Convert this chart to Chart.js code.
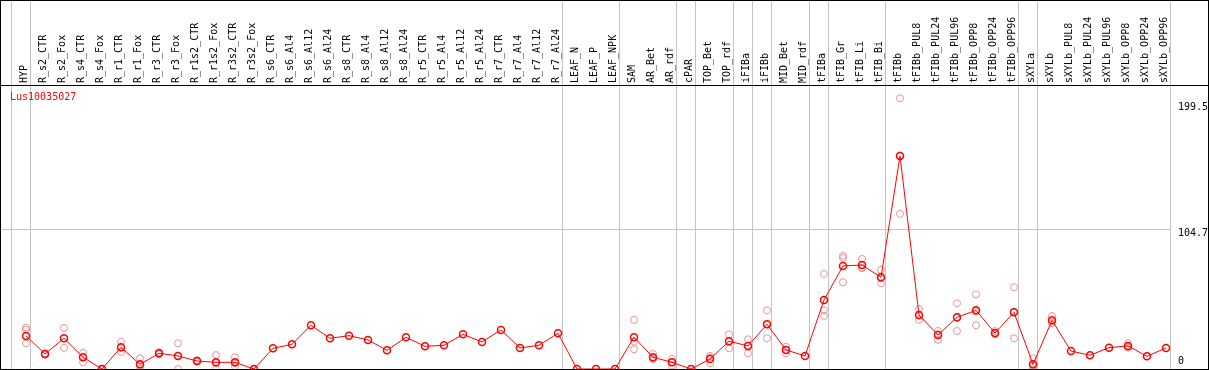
<!DOCTYPE html>
<html>
<head>
<meta charset="utf-8">
<title>Lus10035027</title>
<script src="https://cdn.jsdelivr.net/npm/chart.js@4.4.1/dist/chart.umd.min.js"></script>
<style>
  html, body { margin: 0; padding: 0; background: #fff; overflow: hidden; }
  #wrap { width: 1209px; height: 370px; }
</style>
</head>
<body>
<div id="wrap"><canvas id="chart" width="1209" height="370"></canvas></div>
<script>
'use strict';

/* ── Data ───────────────────────────────────────────────────────── */
const GENE = 'Lus10035027';

const samples = [
    'HYP',
    'R_s2_CTR', 'R_s2_Fox', 'R_s4_CTR', 'R_s4_Fox', 'R_r1_CTR', 'R_r1_Fox', 'R_r3_CTR', 'R_r3_Fox',
    'R_r1s2_CTR', 'R_r1s2_Fox', 'R_r3s2_CTR', 'R_r3s2_Fox',
    'R_s6_CTR', 'R_s6_Al4', 'R_s6_Al12', 'R_s6_Al24', 'R_s8_CTR', 'R_s8_Al4', 'R_s8_Al12', 'R_s8_Al24',
    'R_r5_CTR', 'R_r5_Al4', 'R_r5_Al12', 'R_r5_Al24', 'R_r7_CTR', 'R_r7_Al4', 'R_r7_Al12', 'R_r7_Al24',
    'LEAF_N', 'LEAF_P', 'LEAF_NPK',
    'SAM', 'AR_Bet', 'AR_rdf',
    'cPAR',
    'TOP_Bet', 'TOP_rdf',
    'iFIBa', 'iFIBb',
    'MID_Bet', 'MID_rdf',
    'tFIBa', 'tFIB_Gr', 'tFIB_Li', 'tFIB_Bi',
    'tFIBb', 'tFIBb_PUL8', 'tFIBb_PUL24', 'tFIBb_PUL96', 'tFIBb_OPP8', 'tFIBb_OPP24', 'tFIBb_OPP96',
    'sXYLa',
    'sXYLb', 'sXYLb_PUL8', 'sXYLb_PUL24', 'sXYLb_PUL96', 'sXYLb_OPP8', 'sXYLb_OPP24', 'sXYLb_OPP96'
];

// mean expression per sample
const means = [
    24.8,
    11.3, 23, 8.8, 0, 16.3, 3.5, 11.8, 9.8,
    6, 5, 5, 0,
    15.5, 18.5, 32.8, 23, 25, 21.8, 14, 23.8,
    17, 17.8, 26, 20.3, 29.3, 15.8, 17.8, 26.8,
    0, 0, 0,
    23.8, 8.8, 5,
    0,
    7.5, 20.8,
    17.3, 33.5,
    14.3, 9.8,
    51.8, 77.3, 78, 68.8,
    159.8, 40.5, 25.5, 38.8, 44, 27, 42.5,
    3.5,
    36.5, 13.5, 10.3, 16, 17.3, 9.5, 15.8
];

// individual replicates (null = none visible apart from the mean)
const repA = [
    31,
    11.8, 30.8, 12.2, 0, 20.3, 8, 12.5, 19.3,
    6.5, 10.5, 8.8, 0,
    null, null, null, null, null, null, null, null,
    null, null, null, null, null, null, null, null,
    null, null, null,
    36.8, 11.3, 7.7,
    null,
    9.8, 26,
    22.3, 44,
    16.7, null,
    71.3, 84.8, 82.5, 74.3,
    203, 45, 28.5, 49.3, 56, 28.5, 61.3,
    8,
    39.8, null, null, null, 19.3, null, null
];
const repB = [
    29.5,
    10.7, 15.8, 5, 0, 12.8, 2.5, 11, 0,
    5.5, 0, 1.8, 0,
    null, null, null, null, null, null, null, null,
    null, null, null, null, null, null, null, null,
    null, null, null,
    20.5, 7.3, 2.5,
    null,
    4.3, 15.5,
    11.8, 23,
    11.8, null,
    44, 83.3, 75.5, 64.3,
    116.3, 36.8, 21.8, 28.5, 32.8, 26, 23,
    0,
    34.3, null, null, null, 16.5, null, null
];
const repC = [
    19.3,
    11.3, 23, 8.8, 0, 16, 0, 11.8, 9.8,
    6, 4.5, 4.5, 0,
    null, null, null, null, null, null, null, null,
    null, null, null, null, null, null, null, null,
    null, null, null,
    14.8, 8, 5,
    null,
    8.5, 21,
    17.5, 33.5,
    14.3, null,
    39.8, 65, 76, 68,
    160, 40, 26, 38.5, 43, 26.5, 43,
    2.5,
    35.5, null, null, null, 16, null, null
];

// index of the last sample in each group (-1 = left edge)
const groupEnds = [-1, 0, 28, 31, 34, 35, 37, 38, 39, 41, 42, 45, 52, 53, 60];

const yTicks = [0, 104.7, 199.5];
const yMax = 213;

/* ── Helpers ────────────────────────────────────────────────────── */
const FONT = "'DejaVu Sans Mono', monospace";
const toPoints = arr => arr.map((v, i) => ({ x: i, y: v })).filter(p => p.y !== null);

// pin a scale's size and drop the label overflow padding chart.js adds
const pinScale = size => s => {
    if (s.isHorizontal()) s.height = size; else s.width = size;
    s.paddingLeft = s.paddingRight = s.paddingTop = s.paddingBottom = 0;
};

/* ── Decorations: group separators, frame, gene name ───────────── */
const framePlugin = {
    id: 'frame',
    beforeDatasetsDraw(chart) {
        const { ctx, chartArea, scales } = chart;
        ctx.save();
        ctx.strokeStyle = '#c4c4c4';
        ctx.lineWidth = 1;
        groupEnds.forEach(i => {
            const px = Math.floor(scales.x.getPixelForValue(i + 0.22)) + 0.5;
            ctx.beginPath();
            ctx.moveTo(px, 0);
            ctx.lineTo(px, chartArea.bottom);
            ctx.stroke();
        });
        ctx.restore();
    },
    afterDraw(chart) {
        const { ctx, chartArea, width, height } = chart;
        ctx.save();
        ctx.strokeStyle = '#000';
        ctx.lineWidth = 1;
        ctx.strokeRect(0.5, 0.5, width - 1, height - 1);
        ctx.beginPath();
        ctx.moveTo(0, chartArea.top + 0.5);
        ctx.lineTo(width, chartArea.top + 0.5);
        ctx.stroke();

        ctx.fillStyle = '#ff0000';
        ctx.font = `10px ${FONT}`;
        ctx.textAlign = 'left';
        ctx.textBaseline = 'middle';
        ctx.fillText(GENE, 10, chartArea.top + 12);
        ctx.restore();
    }
};

/* ── Chart ──────────────────────────────────────────────────────── */
new Chart(document.getElementById('chart'), {
    type: 'line',
    data: {
        datasets: [
            {
                label: 'replicates',
                type: 'scatter',
                data: [...toPoints(repA), ...toPoints(repB), ...toPoints(repC)],
                showLine: false,
                pointRadius: 3.5,
                pointBorderWidth: 1,
                pointBorderColor: '#e99494',
                pointBackgroundColor: 'rgba(0,0,0,0)',
                clip: false,
                order: 2
            },
            {
                label: GENE,
                data: toPoints(means),
                borderColor: '#ff0000',
                borderWidth: 1,
                tension: 0,
                pointRadius: 3.5,
                pointBorderWidth: 1.5,
                pointBorderColor: '#ff0000',
                pointBackgroundColor: 'rgba(0,0,0,0)',
                clip: false,
                order: 1
            }
        ]
    },
    options: {
        responsive: false,
        animation: false,
        devicePixelRatio: 1,
        layout: { autoPadding: false, padding: { left: 1, right: 0, top: 0, bottom: 1 } },
        plugins: {
            legend: { display: false },
            tooltip: { enabled: false }
        },
        scales: {
            x: {
                type: 'linear',
                position: 'top',
                min: -25 / 19,   // one column = 19px, HYP sits 25px in from the edge
                max: 1144 / 19,
                afterBuildTicks: s => { s.ticks = samples.map((_, i) => ({ value: i })); },
                afterFit: pinScale(85),
                grid: { display: false, drawTicks: false },
                border: { display: false },
                ticks: {
                    autoSkip: false,
                    minRotation: 90,
                    maxRotation: 90,
                    padding: 2,
                    labelOffset: 10,
                    color: '#000',
                    font: { family: FONT, size: 10 },
                    callback: v => samples[v]
                }
            },
            y: {
                type: 'linear',
                position: 'right',
                min: 0,
                max: yMax,
                afterBuildTicks: s => { s.ticks = yTicks.map(v => ({ value: v })); },
                afterFit: pinScale(39),
                grid: {
                    drawTicks: false,
                    color: c => (c.tick && c.tick.value === 104.7) ? '#c4c4c4' : 'rgba(0,0,0,0)'
                },
                border: { display: false },
                ticks: {
                    padding: 8,
                    color: '#000',
                    font: { family: FONT, size: 10, lineHeight: 0.8 },
                    // extra blank lines nudge the label below (or above, for 0) its tick
                    callback: v => v === 0 ? ['0', '', ''] : ['', String(v)]
                }
            }
        }
    },
    plugins: [framePlugin]
});
</script>
</body>
</html>
